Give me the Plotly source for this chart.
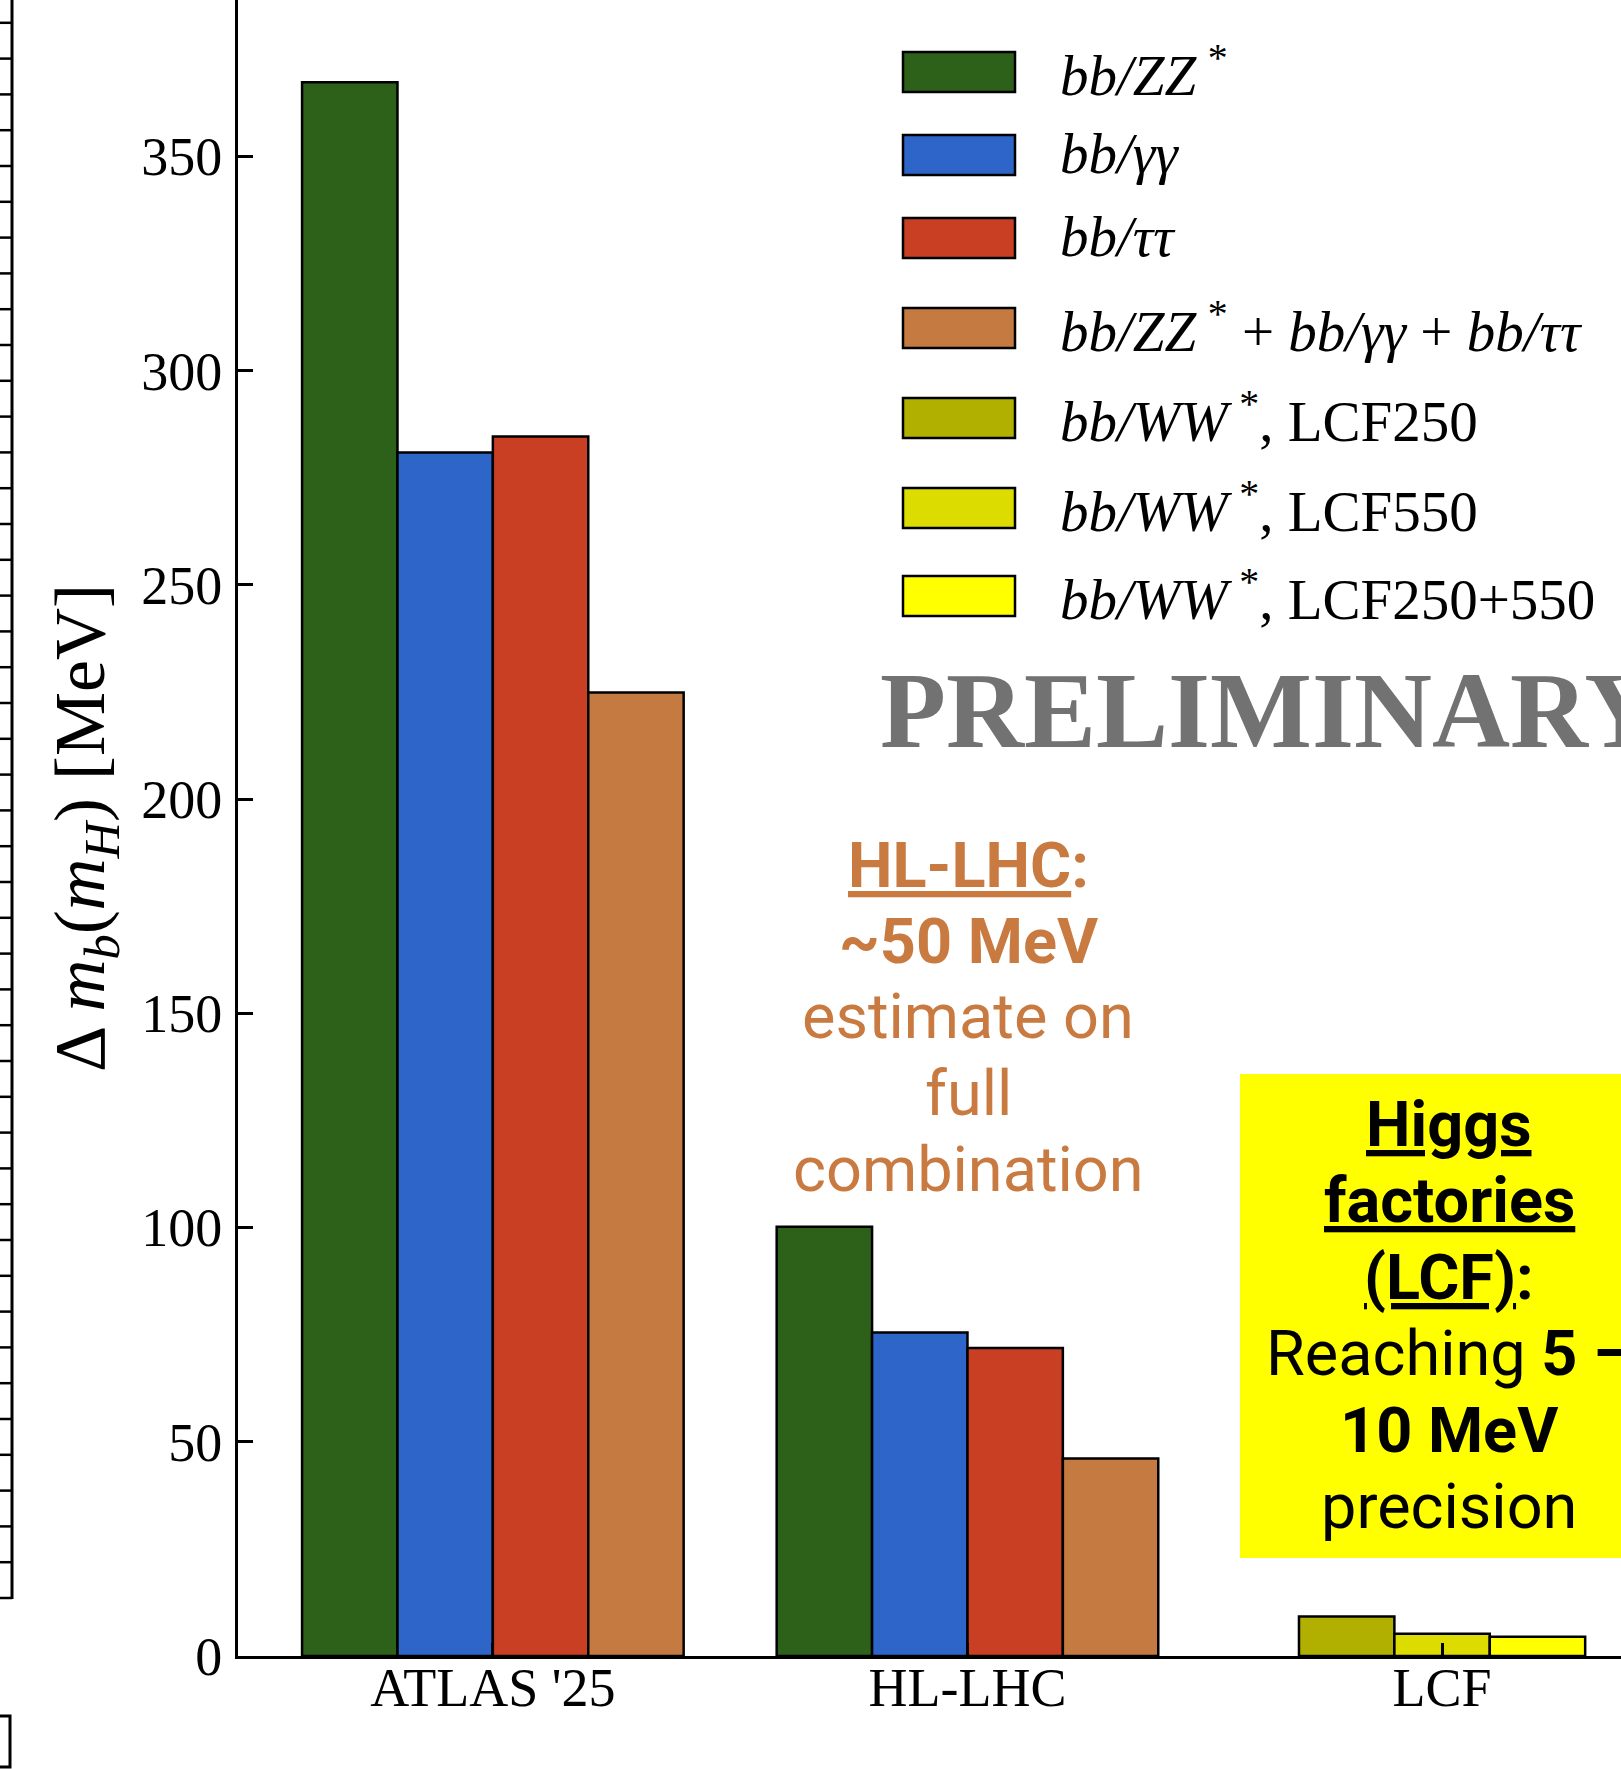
import plotly.graph_objects as go

# ---------------- data ----------------
categories = ["ATLAS '25", "HL-LHC", "LCF"]

bb_zz = [367.3, 100.2, None]
bb_gg = [280.9, 75.5, None]
bb_tt = [284.6, 71.9, None]
bb_comb = [224.9, 46.1, None]
ww_lcf250 = [None, None, 9.2]
ww_lcf550 = [None, None, 5.2]
ww_lcf250_550 = [None, None, 4.5]

series_labels = [
    "<i>bb/ZZ</i>\u2009<sup>*</sup>",
    "<i>bb/γγ</i>",
    "<i>bb/ττ</i>",
    "<i>bb/ZZ</i>\u2009<sup>*</sup> + <i>bb/γγ</i> + <i>bb/ττ</i>",
    "<i>bb/WW</i>\u2009<sup>*</sup>, LCF250",
    "<i>bb/WW</i>\u2009<sup>*</sup>, LCF550",
    "<i>bb/WW</i>\u2009<sup>*</sup>, LCF250+550",
]
series_values = [bb_zz, bb_gg, bb_tt, bb_comb, ww_lcf250, ww_lcf550, ww_lcf250_550]
series_colors = ["#2D6119", "#2D66C8", "#C93F23", "#C57A42", "#B1B000", "#DCDC00", "#FFFF00"]

y_ticks = [0, 50, 100, 150, 200, 250, 300, 350]

# ---------------- layout geometry (pixels) ----------------
W, H = 1621, 1769
ML, MB = 238, 113
PW, PH = W - ML, H - MB


def PX(x):
    return (x - ML) / PW


def PY(y):
    return (PH - y) / PH


SERIF = "Liberation Serif"
SANS = "Roboto"
BW = 0.201

fig = go.Figure()

# bars: each category is centred on its own set of present series
for s, (lab, vals, col) in enumerate(zip(series_labels, series_values, series_colors)):
    xs, ys, offs = [], [], []
    for ci in range(len(categories)):
        if vals[ci] is None:
            continue
        present = [k for k in range(len(series_values)) if series_values[k][ci] is not None]
        n = len(present)
        k = present.index(s)
        xs.append(ci)
        ys.append(vals[ci])
        offs.append(-n * BW / 2 + k * BW)
    fig.add_trace(go.Bar(
        x=xs, y=ys, offset=offs, width=BW, name=lab,
        marker=dict(color=col, line=dict(color="black", width=2.5)),
        showlegend=False,
    ))

shapes = []
annotations = []

# custom legend
leg_rows = [72, 155, 238, 328, 418, 508, 596]
for lab, col, yc in zip(series_labels, series_colors, leg_rows):
    shapes.append(dict(type="rect", xref="paper", yref="paper",
                       x0=PX(903), x1=PX(1015), y0=PY(yc + 20), y1=PY(yc - 20),
                       fillcolor=col, line=dict(color="black", width=2.5), layer="above"))
    annotations.append(dict(xref="paper", yref="paper", x=PX(1058), y=PY(yc - 1),
                            xanchor="left", yanchor="middle", showarrow=False, text=lab,
                            font=dict(family=SERIF, size=57, color="black")))

# PRELIMINARY
annotations.append(dict(xref="paper", yref="paper", x=PX(878), y=PY(710),
                        xanchor="left", yanchor="middle", showarrow=False,
                        text="<b>PRELIMINARY</b>",
                        font=dict(family=SERIF, size=108, color="#727272")))

# HL-LHC note
hl_col = "#C87A41"
hl_lines = ["<b><u>HL-LHC</u>:</b>", "<b>~50 MeV</b>", "estimate on", "full", "combination"]
for i, t in enumerate(hl_lines):
    annotations.append(dict(xref="paper", yref="paper", x=PX(968), y=PY(865 + 76 * i),
                            xanchor="center", yanchor="middle", showarrow=False, text=t,
                            font=dict(family=SANS, size=63, color=hl_col)))

# Higgs factories box
shapes.append(dict(type="rect", xref="paper", yref="paper",
                   x0=PX(1240), x1=PX(1760), y0=PY(1558), y1=PY(1074),
                   fillcolor="#FFFF00", line=dict(width=0), layer="below"))
hf_lines = ["<b><u>Higgs</u></b>", "<b><u>factories</u></b>", "<b><u>(LCF)</u>:</b>",
            "Reaching <b>5 –</b>", "<b>10 MeV</b>", "precision"]
for i, t in enumerate(hf_lines):
    annotations.append(dict(xref="paper", yref="paper", x=PX(1449), y=PY(1124 + 76.5 * i),
                            xanchor="center", yanchor="middle", showarrow=False, text=t,
                            font=dict(family=SANS, size=63, color="black")))

# neighbouring-panel frame remnants at the far left
shapes.append(dict(type="line", xref="paper", yref="paper",
                   x0=PX(12), x1=PX(12), y0=PY(-5), y1=PY(1599),
                   line=dict(color="black", width=3)))
for k in range(45):
    yy = 1598 - 35.8 * k
    shapes.append(dict(type="line", xref="paper", yref="paper",
                       x0=PX(-2), x1=PX(12), y0=PY(yy), y1=PY(yy),
                       line=dict(color="black", width=2.5)))
shapes.append(dict(type="path", xref="paper", yref="paper",
                   path="M {} {} L {} {} L {} {} L {} {}".format(
                       PX(-2), PY(1716), PX(10), PY(1716), PX(10), PY(1767), PX(-2), PY(1767)),
                   line=dict(color="black", width=3)))

fig.update_layout(
    width=W, height=H,
    margin=dict(l=ML, r=0, t=0, b=MB, pad=0),
    paper_bgcolor="white", plot_bgcolor="white",
    barmode="overlay",
    font=dict(family=SERIF, color="black"),
    shapes=shapes, annotations=annotations,
    xaxis=dict(range=[-0.537, 2.377], tickvals=[0, 1, 2], ticktext=categories,
               ticks="inside", ticklen=13, tickwidth=2.5, tickcolor="black",
               showline=True, linecolor="black", linewidth=3,
               showgrid=False, zeroline=False, ticklabelstandoff=-18,
               tickfont=dict(family=SERIF, size=54, color="black")),
    yaxis=dict(range=[0, 386.5], tickvals=y_ticks,
               ticks="inside", ticklen=15, tickwidth=2.5, tickcolor="black",
               showline=True, linecolor="black", linewidth=3,
               showgrid=False, zeroline=False, ticklabelstandoff=2,
               tickfont=dict(family=SERIF, size=54, color="black"),
               title=dict(text="Δ <i>m</i><sub><i>b</i></sub>(<i>m</i><sub><i>H</i></sub>) [MeV]",
                          font=dict(family=SERIF, size=72, color="black"), standoff=14)),
)

fig.write_html("out.html")
